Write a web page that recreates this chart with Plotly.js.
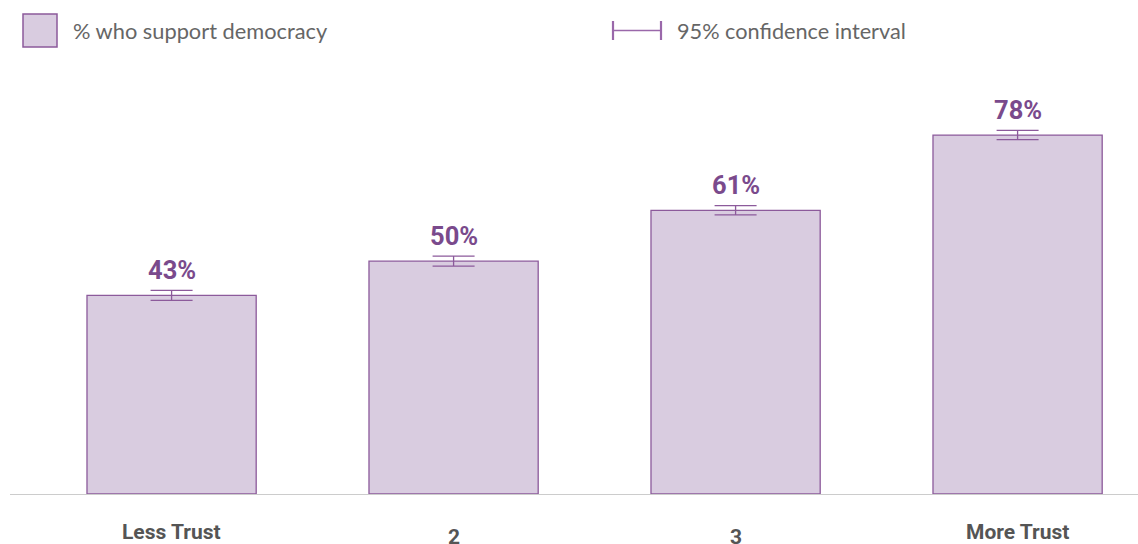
<!DOCTYPE html>
<html>
<head>
<meta charset="utf-8">
<script src="https://cdn.plot.ly/plotly-3.0.1.min.js"></script>
<style>html,body{margin:0;padding:0;background:#fff;}#chart{width:1138px;height:544px;}</style>
</head>
<body>
<div id="chart"></div>
<script>
const categories = ["Less Trust", "2", "3", "More Trust"];
const supportPct = [43.0, 50.4, 61.4, 77.7];
const ciHalf = [1.08, 1.08, 1.0, 1.0];
const seriesName = "% who support democracy";
const ciName = "95% confidence interval";

const W = 1138, H = 544;
const L = 10, R = 0, T = 32, B = 50;
const pw = W - L - R, ph = H - T - B;
const px = x => (x - L) / pw;
const py = y => (H - B - y) / ph;

const purple = "#8c5a9b";
const labelPurple = "#7a4a8c";
const fill = "#d9cce0";

const trace = {
  type: "bar",
  x: categories,
  y: supportPct,
  marker: { color: fill, line: { color: purple, width: 1.3 } },
  error_y: { type: "data", array: ciHalf, visible: true, color: purple, thickness: 1.3, width: 21 },
  hoverinfo: "skip",
  showlegend: false
};

const annotations = categories.map((c, i) => ({
  x: i, y: supportPct[i], xref: "x", yref: "y",
  text: Math.round(supportPct[i]) + "%", showarrow: false,
  yanchor: "bottom", yshift: 8,
  font: { family: "Roboto", size: 25.5, color: labelPurple, weight: 700 }
}));

categories.forEach((c, i) => {
  const numeric = !isNaN(Number(c));
  annotations.push({
    x: i, y: 0, xref: "x", yref: "y", text: c, showarrow: false,
    yanchor: "middle", yshift: numeric ? -43 : -38,
    font: { family: "Roboto", size: 21, color: "#555555", weight: 700 }
  });
});

annotations.push({
  x: px(71), y: py(31), xref: "paper", yref: "paper", xanchor: "left", yanchor: "middle",
  text: seriesName, showarrow: false,
  font: { family: "Lato, 'Open Sans', sans-serif", size: 21.8, color: "#666666" }
});
annotations.push({
  x: px(675), y: py(31), xref: "paper", yref: "paper", xanchor: "left", yanchor: "middle",
  text: ciName, showarrow: false,
  font: { family: "Lato, 'Open Sans', sans-serif", size: 21.7, color: "#666666" }
});

const shapes = [
  { type: "rect", xref: "paper", yref: "paper", x0: px(23), x1: px(57), y0: py(47), y1: py(14),
    fillcolor: fill, line: { color: purple, width: 1.5 } },
  { type: "line", xref: "paper", yref: "paper", x0: px(613), x1: px(613), y0: py(40), y1: py(21), line: { color: "#9a68aa", width: 2.2 } },
  { type: "line", xref: "paper", yref: "paper", x0: px(661), x1: px(661), y0: py(40), y1: py(21), line: { color: "#9a68aa", width: 2.2 } },
  { type: "line", xref: "paper", yref: "paper", x0: px(613), x1: px(661), y0: py(30.5), y1: py(30.5), line: { color: "#9a68aa", width: 1.3 } }
];

const layout = {
  width: W, height: H,
  margin: { l: L, r: R, t: T, b: B, pad: 0 },
  paper_bgcolor: "#ffffff", plot_bgcolor: "#ffffff",
  bargap: 0.4,
  showlegend: false,
  xaxis: {
    type: "category", range: [-0.573, 3.427],
    showticklabels: false, ticks: "", showgrid: false, zeroline: false,
    showline: true, linecolor: "#cccccc", linewidth: 1.3
  },
  yaxis: {
    range: [0, 100], visible: false, showgrid: false, zeroline: false, fixedrange: true
  },
  annotations: annotations,
  shapes: shapes
};

Plotly.newPlot("chart", [trace], layout, { displayModeBar: false, staticPlot: true });
</script>
</body>
</html>
